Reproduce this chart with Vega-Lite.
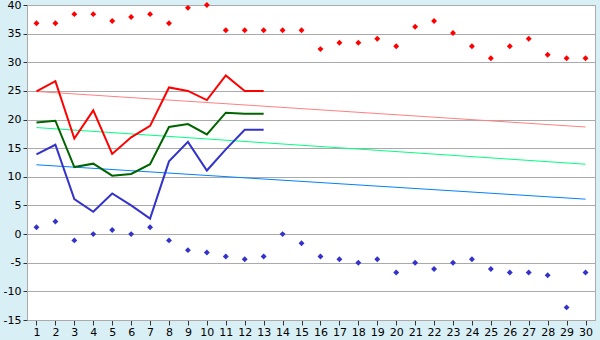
{
  "$schema": "https://vega.github.io/schema/vega-lite/v6.json",
  "width": 568,
  "height": 315,
  "autosize": {"type": "none"},
  "padding": {"left": 27, "top": 5, "right": 5, "bottom": 20},
  "background": "#d9eff6",
  "config": {
    "view": {"fill": "white", "stroke": "#aaaaaa", "strokeWidth": 1},
    "axis": {"labelFont": "DejaVu Sans", "labelFontSize": 11, "labelColor": "black", "domainColor": "#aaaaaa", "tickColor": "#333333", "gridColor": "#aaaaaa", "title": null}
  },
  "datasets": {
    "trend": [
      {"day": 1, "series": "tmax", "value": 24.9},
      {"day": 30, "series": "tmax", "value": 18.7},
      {"day": 1, "series": "tmean", "value": 18.6},
      {"day": 30, "series": "tmean", "value": 12.2},
      {"day": 1, "series": "tmin", "value": 12.1},
      {"day": 30, "series": "tmin", "value": 6.1}
    ],
    "lines": [
      {"day": 1, "series": "max", "value": 24.9},
      {"day": 2, "series": "max", "value": 26.7},
      {"day": 3, "series": "max", "value": 16.7},
      {"day": 4, "series": "max", "value": 21.6},
      {"day": 5, "series": "max", "value": 14.0},
      {"day": 6, "series": "max", "value": 16.9},
      {"day": 7, "series": "max", "value": 18.9},
      {"day": 8, "series": "max", "value": 25.6},
      {"day": 9, "series": "max", "value": 25.0},
      {"day": 10, "series": "max", "value": 23.4},
      {"day": 11, "series": "max", "value": 27.7},
      {"day": 12, "series": "max", "value": 25.0},
      {"day": 13, "series": "max", "value": 25.0},
      {"day": 1, "series": "mean", "value": 19.5},
      {"day": 2, "series": "mean", "value": 19.8},
      {"day": 3, "series": "mean", "value": 11.7},
      {"day": 4, "series": "mean", "value": 12.3},
      {"day": 5, "series": "mean", "value": 10.2},
      {"day": 6, "series": "mean", "value": 10.5},
      {"day": 7, "series": "mean", "value": 12.2},
      {"day": 8, "series": "mean", "value": 18.7},
      {"day": 9, "series": "mean", "value": 19.2},
      {"day": 10, "series": "mean", "value": 17.4},
      {"day": 11, "series": "mean", "value": 21.2},
      {"day": 12, "series": "mean", "value": 21.0},
      {"day": 13, "series": "mean", "value": 21.0},
      {"day": 1, "series": "min", "value": 13.9},
      {"day": 2, "series": "min", "value": 15.6},
      {"day": 3, "series": "min", "value": 6.1},
      {"day": 4, "series": "min", "value": 3.9},
      {"day": 5, "series": "min", "value": 7.1},
      {"day": 6, "series": "min", "value": 5.0},
      {"day": 7, "series": "min", "value": 2.7},
      {"day": 8, "series": "min", "value": 12.7},
      {"day": 9, "series": "min", "value": 16.1},
      {"day": 10, "series": "min", "value": 11.1},
      {"day": 11, "series": "min", "value": 14.8},
      {"day": 12, "series": "min", "value": 18.2},
      {"day": 13, "series": "min", "value": 18.2}
    ],
    "records": [
      {"day": 1, "series": "recmax", "value": 36.8},
      {"day": 2, "series": "recmax", "value": 36.8},
      {"day": 3, "series": "recmax", "value": 38.4},
      {"day": 4, "series": "recmax", "value": 38.4},
      {"day": 5, "series": "recmax", "value": 37.2},
      {"day": 6, "series": "recmax", "value": 37.9},
      {"day": 7, "series": "recmax", "value": 38.4},
      {"day": 8, "series": "recmax", "value": 36.8},
      {"day": 9, "series": "recmax", "value": 39.5},
      {"day": 10, "series": "recmax", "value": 40.0},
      {"day": 11, "series": "recmax", "value": 35.6},
      {"day": 12, "series": "recmax", "value": 35.6},
      {"day": 13, "series": "recmax", "value": 35.6},
      {"day": 14, "series": "recmax", "value": 35.6},
      {"day": 15, "series": "recmax", "value": 35.6},
      {"day": 16, "series": "recmax", "value": 32.3},
      {"day": 17, "series": "recmax", "value": 33.4},
      {"day": 18, "series": "recmax", "value": 33.4},
      {"day": 19, "series": "recmax", "value": 34.1},
      {"day": 20, "series": "recmax", "value": 32.8},
      {"day": 21, "series": "recmax", "value": 36.2},
      {"day": 22, "series": "recmax", "value": 37.2},
      {"day": 23, "series": "recmax", "value": 35.1},
      {"day": 24, "series": "recmax", "value": 32.8},
      {"day": 25, "series": "recmax", "value": 30.7},
      {"day": 26, "series": "recmax", "value": 32.8},
      {"day": 27, "series": "recmax", "value": 34.1},
      {"day": 28, "series": "recmax", "value": 31.3},
      {"day": 29, "series": "recmax", "value": 30.7},
      {"day": 30, "series": "recmax", "value": 30.7},
      {"day": 1, "series": "recmin", "value": 1.2},
      {"day": 2, "series": "recmin", "value": 2.2},
      {"day": 3, "series": "recmin", "value": -1.1},
      {"day": 4, "series": "recmin", "value": 0.0},
      {"day": 5, "series": "recmin", "value": 0.7},
      {"day": 6, "series": "recmin", "value": 0.0},
      {"day": 7, "series": "recmin", "value": 1.2},
      {"day": 8, "series": "recmin", "value": -1.1},
      {"day": 9, "series": "recmin", "value": -2.8},
      {"day": 10, "series": "recmin", "value": -3.2},
      {"day": 11, "series": "recmin", "value": -3.9},
      {"day": 12, "series": "recmin", "value": -4.4},
      {"day": 13, "series": "recmin", "value": -3.9},
      {"day": 14, "series": "recmin", "value": 0.0},
      {"day": 15, "series": "recmin", "value": -1.6},
      {"day": 16, "series": "recmin", "value": -3.9},
      {"day": 17, "series": "recmin", "value": -4.4},
      {"day": 18, "series": "recmin", "value": -5.0},
      {"day": 19, "series": "recmin", "value": -4.4},
      {"day": 20, "series": "recmin", "value": -6.7},
      {"day": 21, "series": "recmin", "value": -5.0},
      {"day": 22, "series": "recmin", "value": -6.1},
      {"day": 23, "series": "recmin", "value": -5.0},
      {"day": 24, "series": "recmin", "value": -4.4},
      {"day": 25, "series": "recmin", "value": -6.1},
      {"day": 26, "series": "recmin", "value": -6.7},
      {"day": 27, "series": "recmin", "value": -6.7},
      {"day": 28, "series": "recmin", "value": -7.2},
      {"day": 29, "series": "recmin", "value": -12.8},
      {"day": 30, "series": "recmin", "value": -6.7}
    ]
  },
  "encoding": {
    "x": {
      "field": "day", "type": "quantitative",
      "scale": {"domain": [0.5, 30.5], "nice": false, "zero": false},
      "axis": {"values": [1,2,3,4,5,6,7,8,9,10,11,12,13,14,15,16,17,18,19,20,21,22,23,24,25,26,27,28,29,30], "grid": false, "tickSize": 5, "labelPadding": 1, "labelFlush": false, "labelOverlap": false, "format": "d"}
    },
    "y": {
      "field": "value", "type": "quantitative",
      "scale": {"domain": [-15, 40], "nice": false, "zero": false},
      "axis": {"values": [-15,-10,-5,0,5,10,15,20,25,30,35,40], "grid": true, "tickSize": 4, "labelPadding": 2, "labelExpr": "'' + datum.value", "labelFlush": false, "labelOverlap": false}
    },
    "color": {
      "field": "series", "type": "nominal", "legend": null,
      "scale": {
        "domain": ["tmax", "tmean", "tmin", "max", "mean", "min", "recmax", "recmin"],
        "range": ["#ff8080", "#00ff80", "#0080ff", "#ff0000", "#006400", "#3333cc", "#ff0000", "#3333cc"]
      }
    }
  },
  "layer": [
    {"data": {"name": "trend"}, "mark": {"type": "line", "strokeWidth": 1}},
    {"data": {"name": "lines"}, "mark": {"type": "line", "strokeWidth": 2}},
    {"data": {"name": "records"}, "mark": {"type": "point", "shape": "diamond", "filled": true, "size": 35, "opacity": 1}}
  ]
}
